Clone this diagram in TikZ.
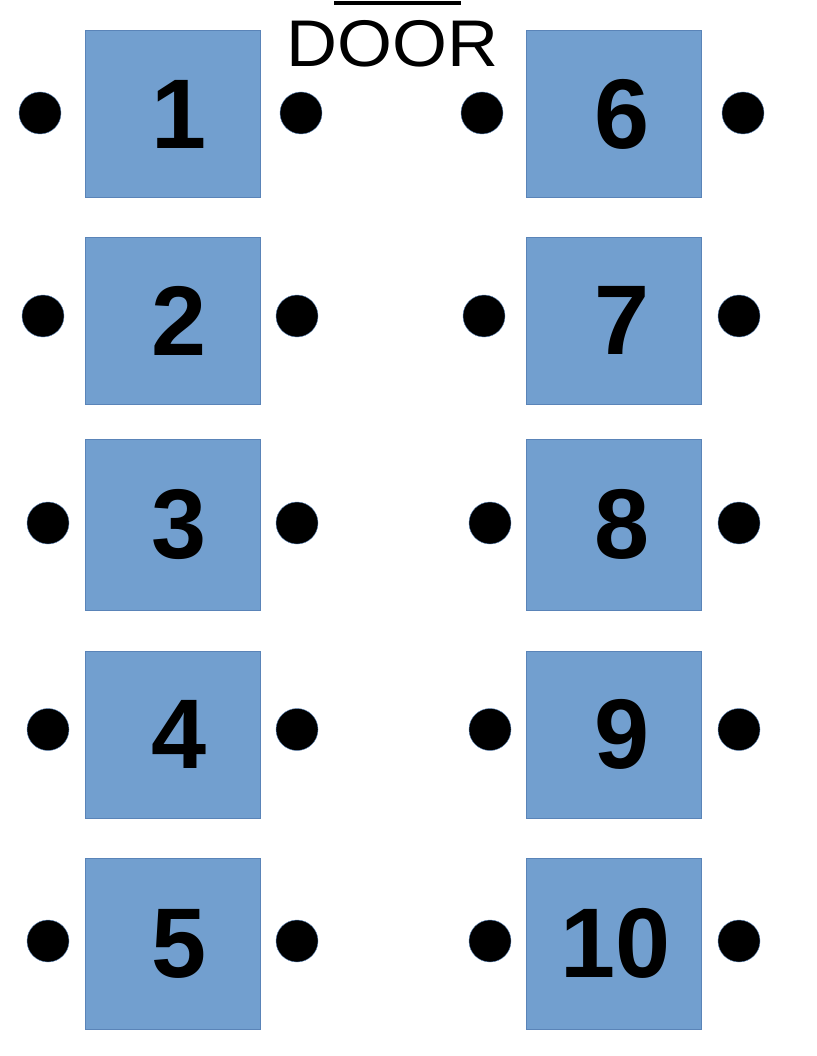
\documentclass[tikz,border=0pt]{standalone}
\usepackage{fontspec}
\setmainfont{Liberation Sans}
\definecolor{seatblue}{HTML}{729FCF}
\definecolor{seatedge}{HTML}{5A84B8}
\begin{document}
\begin{tikzpicture}[x=1pt,y=-1pt,
  seat/.style={rectangle,draw=seatedge,line width=0.8pt,fill=seatblue,minimum width=175pt,minimum height=167pt,inner sep=0pt},
  num/.style={font=\fontsize{99}{99}\selectfont\bfseries,inner sep=0pt},
  spot/.style={circle,fill=black,draw=seatedge,line width=0.4pt,minimum size=42pt,inner sep=0pt}]

  \useasboundingbox (0,0) rectangle (816,1056);

  % door
  \node[font=\fontsize{66}{66}\selectfont,anchor=base,inner sep=0pt,xscale=1.07] (door) at (392.5,67) {DOOR};
  \coordinate (dl) at (334,3);
  \coordinate (dr) at (461,3);
  \draw[line width=4.5pt] (dl) -- (dr);

  % left row
  \node[seat] (b1) at (172.5,114) {};
  \node[seat] (b2) at (172.5,320.5) {};
  \node[seat,minimum height=171pt] (b3) at (172.5,524.5) {};
  \node[seat] (b4) at (172.5,734.5) {};
  \node[seat,minimum height=171pt] (b5) at (172.5,943.5) {};

  % right row
  \node[seat] (b6) at (613.5,114) {};
  \node[seat] (b7) at (613.5,320.5) {};
  \node[seat,minimum height=171pt] (b8) at (613.5,524.5) {};
  \node[seat] (b9) at (613.5,734.5) {};
  \node[seat,minimum height=171pt] (b10) at (613.5,943.5) {};

  \node[num] (n1) at ([xshift=7pt]b1.center) {1};
  \node[num] (n2) at ([xshift=7pt]b2.center) {2};
  \node[num] (n3) at ([xshift=7pt]b3.center) {3};
  \node[num] (n4) at ([xshift=7pt]b4.center) {4};
  \node[num] (n5) at ([xshift=7pt]b5.center) {5};
  \node[num] (n6) at ([xshift=9pt]b6.center) {6};
  \node[num] (n7) at ([xshift=9pt]b7.center) {7};
  \node[num] (n8) at ([xshift=9pt]b8.center) {8};
  \node[num] (n9) at ([xshift=9pt]b9.center) {9};
  \node[num] (n10) at ([xshift=2pt]b10.center) {10};

  % dots
  \node[spot] (l1) at (40,113) {};
  \node[spot] (r1) at (301,113) {};
  \node[spot] (l6) at (482,113) {};
  \node[spot] (r6) at (743,113) {};
  \node[spot] (l2) at (43,316) {};
  \node[spot] (r2) at (297,316) {};
  \node[spot] (l7) at (484,316) {};
  \node[spot] (r7) at (739,316) {};
  \node[spot] (l3) at (48,523) {};
  \node[spot] (r3) at (297,523) {};
  \node[spot] (l8) at (490,523) {};
  \node[spot] (r8) at (739,523) {};
  \node[spot] (l4) at (48,729.5) {};
  \node[spot] (r4) at (297,729.5) {};
  \node[spot] (l9) at (490,729.5) {};
  \node[spot] (r9) at (739,729.5) {};
  \node[spot] (l5) at (48,941) {};
  \node[spot] (r5) at (297,941) {};
  \node[spot] (l10) at (490,941) {};
  \node[spot] (r10) at (739,941) {};
\end{tikzpicture}
\end{document}
